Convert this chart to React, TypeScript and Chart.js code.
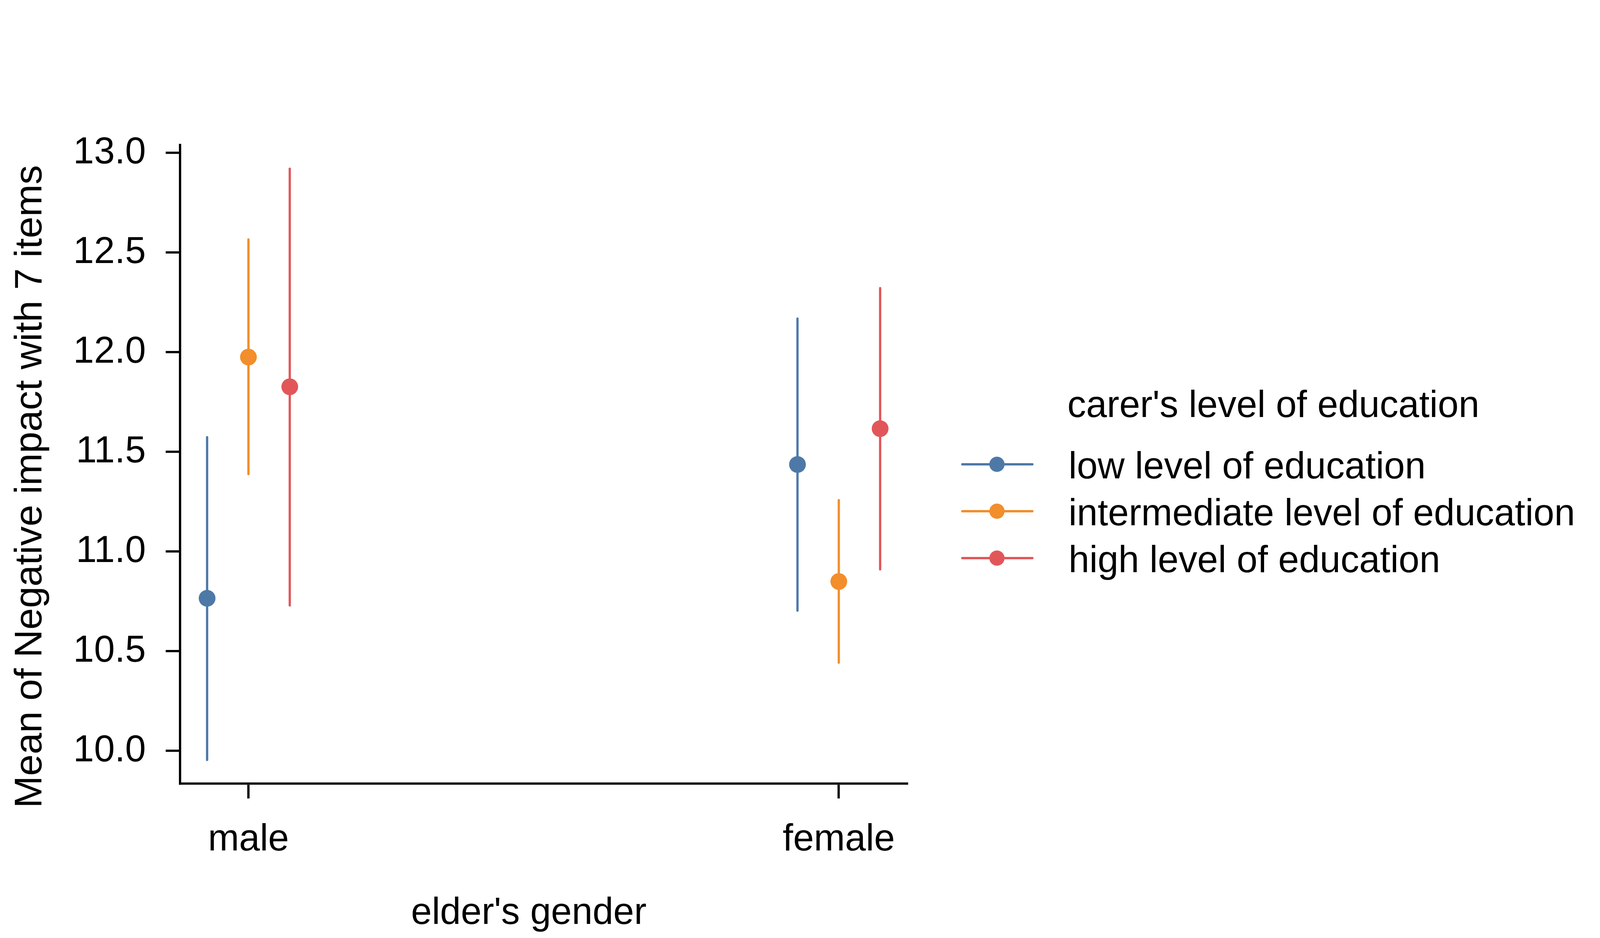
import React, { useEffect, useRef } from "react";
import { Chart, registerables } from "chart.js";

Chart.register(...registerables);

// ---- data ----
const categories = ["male", "female"];
const levels = [
  "low level of education",
  "intermediate level of education",
  "high level of education",
];
const lowMeans = [10.766, 11.437];
const lowLower = [9.955, 10.704];
const lowUpper = [11.574, 12.169];
const intermediateMeans = [11.976, 10.85];
const intermediateLower = [11.389, 10.443];
const intermediateUpper = [12.566, 11.258];
const highMeans = [11.827, 11.617];
const highLower = [10.73, 10.911];
const highUpper = [12.921, 12.322];
const yTicks = [10.0, 10.5, 11.0, 11.5, 12.0, 12.5, 13.0];

const xTitle = "elder's gender";
const yTitle = "Mean of Negative impact with 7 items";
const legendTitle = "carer's level of education";

const colors = ["#4E79A7", "#F28E2B", "#E15759"];
const dodge = 0.07;
const FONT = "'Liberation Sans', Arial, Helvetica, sans-serif";

const seriesMeans = [lowMeans, intermediateMeans, highMeans];
const seriesLower = [lowLower, intermediateLower, highLower];
const seriesUpper = [lowUpper, intermediateUpper, highUpper];

const REF_W = 4200;
const REF_H = 2400;

function getSize() {
  const W = Math.round(window.innerWidth || REF_W);
  const H = Math.round(window.innerHeight || REF_H);
  return { W, H };
}

export default function App() {
  const ref = useRef<HTMLCanvasElement | null>(null);
  const { W, H } = getSize();
  useEffect(() => {
    if (!ref.current) return;
    const sx = W / REF_W;
    const sy = H / REF_H;
    const X = (v: number) => v * sx;
    const Y = (v: number) => v * sy;
    const FS = Math.round(98 * sx * 10) / 10;
    const FSV = Math.round(99 * sy * 10) / 10;
    const LW = 6 * Math.min(sx, sy);

    const overlayPlugin = {
      id: "overlay",
      afterDraw(chart: any) {
        const ctx = chart.ctx;
        ctx.save();
        ctx.fillStyle = "#000";
        ctx.font = `${FS}px ${FONT}`;
        // x title
        ctx.textAlign = "center";
        ctx.textBaseline = "alphabetic";
        ctx.fillText(xTitle, X(1388), Y(2364));
        // y title (rotated; its length runs along y)
        ctx.save();
        ctx.font = `${FSV}px ${FONT}`;
        ctx.translate(X(109), Y(1245));
        ctx.rotate(-Math.PI / 2);
        ctx.fillText(yTitle, 0, 0);
        ctx.restore();
        // legend
        ctx.textAlign = "left";
        ctx.fillText(legendTitle, X(2802), Y(1067));
        levels.forEach((lab, i) => {
          const cy = Y(1188 + i * 120);
          ctx.strokeStyle = colors[i];
          ctx.lineWidth = LW;
          ctx.lineCap = "round";
          ctx.beginPath();
          ctx.moveTo(X(2526), cy);
          ctx.lineTo(X(2710), cy);
          ctx.stroke();
          ctx.fillStyle = colors[i];
          ctx.beginPath();
          ctx.arc(X(2617), cy, 20 * Math.min(sx, sy), 0, Math.PI * 2);
          ctx.fill();
          ctx.fillStyle = "#000";
          ctx.fillText(lab, X(2805), Y(1224 + i * 120));
        });
        ctx.restore();
      },
    };

    const pointSets = levels.map((lab, s) => ({
      type: "line" as const,
      label: lab,
      data: categories.map((_, c) => ({ x: c + (s - 1) * dodge, y: seriesMeans[s][c] })),
      showLine: false,
      pointRadius: 22 * Math.min(sx, sy),
      pointHoverRadius: 22 * Math.min(sx, sy),
      pointBorderWidth: 0,
      pointBackgroundColor: colors[s],
      borderColor: colors[s],
      backgroundColor: colors[s],
      order: 0,
    }));
    const barSets = levels.map((lab, s) => {
      const data: any[] = [];
      categories.forEach((_, c) => {
        const x = c + (s - 1) * dodge;
        if (c > 0) data.push({ x: x - 0.5, y: null });
        data.push({ x, y: seriesLower[s][c] });
        data.push({ x, y: seriesUpper[s][c] });
      });
      return {
        type: "line" as const,
        label: lab + " CI",
        data,
        showLine: true,
        spanGaps: false,
        pointRadius: 0,
        borderWidth: LW,
        borderColor: colors[s],
        borderCapStyle: "round" as const,
        order: 1,
      };
    });

    const axisCommon = {
      grid: {
        drawOnChartArea: false,
        drawTicks: true,
        color: "#000",
        lineWidth: LW,
      },
      border: { display: true, color: "#000", width: LW },
    };

    const chart = new Chart(ref.current, {
      type: "line",
      data: { datasets: [...pointSets, ...barSets] as any },
      plugins: [overlayPlugin],
      options: {
        animation: false,
        responsive: false,
        events: [],
        layout: { padding: { top: Y(371), right: W - X(2381), bottom: 0, left: 0 } },
        plugins: { legend: { display: false }, tooltip: { enabled: false } },
        scales: {
          x: {
            type: "linear",
            min: -0.1156,
            max: 1.1156,
            afterBuildTicks: (s: any) => {
              s.ticks = categories.map((_, i) => ({ value: i }));
            },
            afterFit: (s: any) => {
              s.height = H - Y(2005);
            },
            ticks: {
              callback: (_v: any, i: number) => categories[i],
              font: { family: FONT, size: FS },
              color: "#000",
              padding: Y(49),
              maxRotation: 0,
              autoSkip: false,
            },
            grid: { ...axisCommon.grid, tickLength: Y(38) },
            border: axisCommon.border,
          },
          y: {
            type: "linear",
            min: 9.836,
            max: 13.04,
            afterBuildTicks: (s: any) => {
              s.ticks = yTicks.map((v) => ({ value: v }));
            },
            afterFit: (s: any) => {
              s.width = X(473);
            },
            ticks: {
              callback: (v: any) => Number(v).toFixed(1),
              font: { family: FONT, size: FS },
              color: "#000",
              padding: X(52),
              autoSkip: false,
            },
            grid: { ...axisCommon.grid, tickLength: X(38) },
            border: axisCommon.border,
          },
        },
      },
    });
    return () => chart.destroy();
  }, [W, H]);
  return (
    <div style={{ position: "absolute", left: 0, top: 0, width: W, height: H, background: "#fff" }}>
      <canvas ref={ref} width={W} height={H} style={{ width: W, height: H, display: "block" }} />
    </div>
  );
}
